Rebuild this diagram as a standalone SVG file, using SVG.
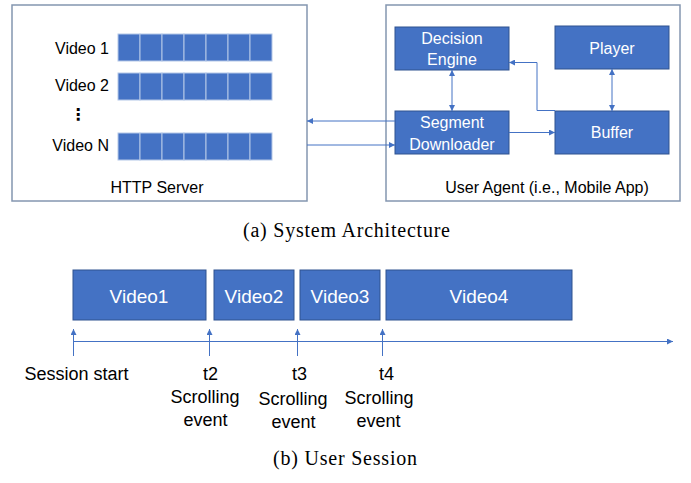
<svg xmlns="http://www.w3.org/2000/svg" width="691" height="483" viewBox="0 0 691 483">
<style>
.cont{fill:#fff;stroke:#8496B0;stroke-width:1.5}
.node{fill:#4472C4;stroke:#2F528F;stroke-width:1}
.cell{fill:#4472C4;stroke:#B4C7E7;stroke-width:1}
.nt{font-family:"Liberation Sans",Arial,sans-serif;font-size:16px;fill:#fff;text-anchor:middle}
.lb{font-family:"Liberation Sans",Arial,sans-serif;font-size:16px;fill:#000}
.vt{font-family:"Liberation Sans",Arial,sans-serif;font-size:19px;fill:#fff;text-anchor:middle}
.bt{font-family:"Liberation Sans",Arial,sans-serif;font-size:18px;fill:#000;text-anchor:middle}
.cap{font-family:"Liberation Serif","Times New Roman",serif;font-size:20px;fill:#000;text-anchor:middle}
.ln{fill:none;stroke:#4472C4;stroke-width:1}
</style>
<defs>
<marker id="ah" viewBox="0 0 10 10" refX="10" refY="5" markerWidth="6" markerHeight="6" markerUnits="userSpaceOnUse" orient="auto-start-reverse">
<path d="M0,0 L10,5 L0,10 z" fill="#4472C4"/>
</marker>
</defs>

<g id="http-server">
<rect class="cont" x="12" y="5" width="295" height="196"/>
<text class="lb" x="157" y="193" text-anchor="middle">HTTP Server</text>
<text class="lb" x="109" y="54" text-anchor="end">Video 1</text>
<text class="lb" x="109" y="91" text-anchor="end">Video 2</text>
<text x="78" y="120" font-family="DejaVu Sans,sans-serif" font-size="16" font-weight="bold" text-anchor="middle" fill="#000">⋮</text>
<text class="lb" x="109" y="151" text-anchor="end">Video N</text>
<g id="segments-video1">
<rect class="cell" x="118" y="34" width="22" height="27"/><rect class="cell" x="140" y="34" width="22" height="27"/><rect class="cell" x="162" y="34" width="22" height="27"/><rect class="cell" x="184" y="34" width="22" height="27"/><rect class="cell" x="206" y="34" width="22" height="27"/><rect class="cell" x="228" y="34" width="22" height="27"/><rect class="cell" x="250" y="34" width="22" height="27"/>
</g>
<g id="segments-video2">
<rect class="cell" x="118" y="73" width="22" height="27"/><rect class="cell" x="140" y="73" width="22" height="27"/><rect class="cell" x="162" y="73" width="22" height="27"/><rect class="cell" x="184" y="73" width="22" height="27"/><rect class="cell" x="206" y="73" width="22" height="27"/><rect class="cell" x="228" y="73" width="22" height="27"/><rect class="cell" x="250" y="73" width="22" height="27"/>
</g>
<g id="segments-videoN">
<rect class="cell" x="118" y="133" width="22" height="27"/><rect class="cell" x="140" y="133" width="22" height="27"/><rect class="cell" x="162" y="133" width="22" height="27"/><rect class="cell" x="184" y="133" width="22" height="27"/><rect class="cell" x="206" y="133" width="22" height="27"/><rect class="cell" x="228" y="133" width="22" height="27"/><rect class="cell" x="250" y="133" width="22" height="27"/>
</g>
</g>

<g id="user-agent">
<rect class="cont" x="386" y="5" width="294" height="196"/>
<text class="lb" x="547" y="193" text-anchor="middle">User Agent (i.e., Mobile App)</text>
</g>

<g id="decision-engine">
<rect class="node" x="395" y="27" width="114" height="43"/>
<text class="nt" x="452" y="44">Decision</text>
<text class="nt" x="452" y="65">Engine</text>
</g>
<g id="player">
<rect class="node" x="555" y="26" width="114" height="43"/>
<text class="nt" x="612" y="54">Player</text>
</g>
<g id="segment-downloader">
<rect class="node" x="395" y="111" width="114" height="43"/>
<text class="nt" x="452" y="128">Segment</text>
<text class="nt" x="452" y="150">Downloader</text>
</g>
<g id="buffer">
<rect class="node" x="555" y="111" width="114" height="43"/>
<text class="nt" x="612" y="138">Buffer</text>
</g>

<g id="connectors">
<line class="ln" x1="395" y1="121" x2="307" y2="121" marker-end="url(#ah)"/>
<line class="ln" x1="307" y1="145" x2="395" y2="145" marker-end="url(#ah)"/>
<line class="ln" x1="452" y1="70" x2="452" y2="111" marker-start="url(#ah)" marker-end="url(#ah)"/>
<line class="ln" x1="612" y1="69" x2="612" y2="111" marker-start="url(#ah)" marker-end="url(#ah)"/>
<polyline class="ln" points="555,110.5 537,110.5 537,62.5 509,62.5" marker-end="url(#ah)"/>
<line class="ln" x1="509" y1="132.5" x2="555" y2="132.5" marker-end="url(#ah)"/>
</g>

<text class="cap" x="346.5" y="236.5" textLength="207" lengthAdjust="spacing">(a) System Architecture</text>

<g id="video1">
<rect class="node" x="73" y="270" width="133" height="50"/>
<text class="vt" x="139" y="302.5">Video1</text>
</g>
<g id="video2">
<rect class="node" x="214" y="270" width="80" height="50"/>
<text class="vt" x="254" y="302.5">Video2</text>
</g>
<g id="video3">
<rect class="node" x="300" y="270" width="80" height="50"/>
<text class="vt" x="340" y="302.5">Video3</text>
</g>
<g id="video4">
<rect class="node" x="386" y="270" width="186" height="50"/>
<text class="vt" x="479" y="302.5">Video4</text>
</g>

<g id="timeline">
<line class="ln" x1="73.5" y1="341.5" x2="673" y2="341.5" marker-end="url(#ah)"/>
<line class="ln" x1="73.5" y1="356" x2="73.5" y2="329" marker-end="url(#ah)"/>
<line class="ln" x1="209.5" y1="356" x2="209.5" y2="329" marker-end="url(#ah)"/>
<line class="ln" x1="297.5" y1="356" x2="297.5" y2="329" marker-end="url(#ah)"/>
<line class="ln" x1="382.5" y1="356" x2="382.5" y2="329" marker-end="url(#ah)"/>
</g>

<g id="timeline-labels">
<text class="bt" x="76.5" y="380">Session start</text>
<text class="bt" x="210.5" y="380">t2</text>
<text class="bt" x="205" y="403">Scrolling</text>
<text class="bt" x="205.5" y="426">event</text>
<text class="bt" x="299.5" y="380">t3</text>
<text class="bt" x="293" y="405">Scrolling</text>
<text class="bt" x="293.5" y="428">event</text>
<text class="bt" x="386.5" y="380">t4</text>
<text class="bt" x="379" y="404">Scrolling</text>
<text class="bt" x="378.5" y="427">event</text>
</g>

<text class="cap" x="345" y="465" textLength="144" lengthAdjust="spacing">(b) User Session</text>
</svg>
